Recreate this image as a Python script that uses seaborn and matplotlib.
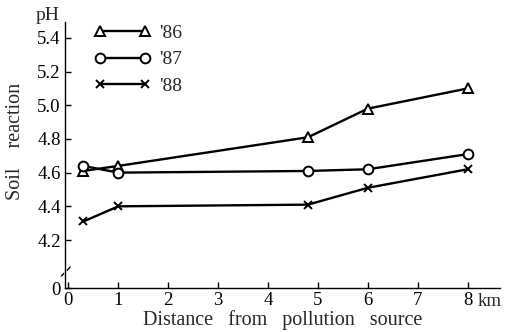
import matplotlib
matplotlib.use("Agg")
import matplotlib.pyplot as plt
import seaborn as sns
import pandas as pd

sns.set_theme(style="white")
plt.rcParams['font.family'] = ['Liberation Serif', 'DejaVu Serif']

distance = [0.3, 1.0, 4.8, 6.0, 8.0]
ph_86 = [4.61, 4.64, 4.81, 4.98, 5.10]
ph_87 = [4.64, 4.60, 4.61, 4.62, 4.71]
ph_88 = [4.31, 4.40, 4.41, 4.51, 4.62]
series = ["'86", "'87", "'88"]
markers = ['^', 'o', 'x']
x_ticks = [0, 1, 2, 3, 4, 5, 6, 7, 8]
y_ticks = [4.2, 4.4, 4.6, 4.8, 5.0, 5.2, 5.4]
y_zero = 3.915

fig = plt.figure(figsize=(5.15, 3.32), dpi=100)
ax = fig.add_axes([0.126, 0.1325, 0.845, 0.8015])

for name, vals, m in zip(series, [ph_86, ph_87, ph_88], markers):
    df = pd.DataFrame({'d': distance, 'ph': vals})
    ms = 6 if m == 'x' else 7
    sns.lineplot(data=df, x='d', y='ph', ax=ax, color='black', lw=1.7,
                 marker=m, markersize=ms, markerfacecolor='white',
                 markeredgecolor='black', markeredgewidth=1.4, label=name)

ax.set_xlim(-0.07, 8.65)
ax.set_ylim(y_zero, 5.495)
ax.set_xticks(x_ticks)
ax.set_xticklabels([str(t) for t in x_ticks])
ax.set_yticks([y_zero] + y_ticks)
ax.set_yticklabels(['0'] + [f'{t:.1f}' for t in y_ticks])
ax.tick_params(direction='in', length=4, width=1, colors='black', labelsize=13.5,
               bottom=True, left=True, pad=3)
for s in ['top', 'right']:
    ax.spines[s].set_visible(False)
for s in ['left', 'bottom']:
    ax.spines[s].set_color('black')
    ax.spines[s].set_linewidth(1.0)

# axis break mark
ax.plot([-0.008, 0.012], [0.045, 0.078], transform=ax.transAxes, color='black',
        lw=1.0, clip_on=False)
ax.plot([0.0, 0.0], [0.055, 0.068], transform=ax.transAxes, color='white',
        lw=2.0, clip_on=False)

ax.set_xlabel('Distance   from   pollution   source', fontsize=14.5, labelpad=1)
ax.set_ylabel('Soil    reaction', fontsize=14.5)
ax.yaxis.set_label_coords(-0.092, 0.55)
fig.text(48 / 515, 1 - 15 / 332, 'pH', fontsize=14, ha='center', va='center')
ax.text(8.2, -0.02, 'km', transform=ax.get_xaxis_transform(), fontsize=13.5,
        ha='left', va='top')

ax.legend(loc='upper left', bbox_to_anchor=(0.05, 1.02), frameon=False,
          numpoints=2, handlelength=2.9, fontsize=14, labelspacing=0.45,
          handletextpad=0.45, borderaxespad=0)

fig.savefig('out.png', dpi=100)
